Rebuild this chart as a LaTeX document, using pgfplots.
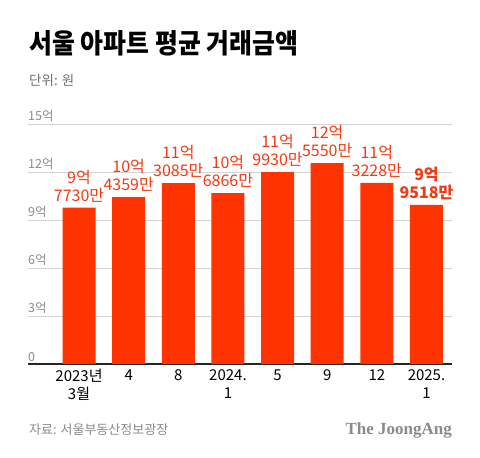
\documentclass[border=0pt]{standalone}
\usepackage{fontspec}
\setmainfont{Noto Sans CJK KR}
\newfontfamily\serifb{Liberation Serif}
\usepackage{graphicx}
\usepackage{pgfplots}
\pgfplotsset{compat=1.18}
\definecolor{barred}{HTML}{FF3300}
\definecolor{labred}{HTML}{F23A12}
\definecolor{gridc}{HTML}{D2D2D2}
\definecolor{txtgray}{HTML}{8A8A8A}
\definecolor{subgray}{HTML}{6E6E6E}
\begin{document}
\begin{tikzpicture}
\begin{axis}[
  at={(0pt,0pt)}, anchor=south west,
  scale only axis, width=424pt, height=240pt,
  xmin=-1.028, xmax=7.514, ymin=0, ymax=15,
  clip=false,
  axis line style={draw=none},
  tick style={draw=none},
  major tick length=0pt,
  ytick={3,6,9,12,15},
  yticklabels={},
  ymajorgrids,
  grid style={gridc, line width=0.8pt},
  extra y ticks={0},
  extra y tick labels={},
  extra y tick style={grid style={black!85, line width=1.1pt}},
  xtick={0,...,7},
  xticklabels={{2023년\\3월},4,8,{2024.\\1},5,9,12,{2025.\\1}},
  xticklabel style={align=center, font=\fontsize{15}{18}\selectfont, text=black, yshift=-2pt},
  ybar, bar width=33pt,
]
\addplot[fill=barred, draw=none] coordinates {
  (0,9.7730) (1,10.4359) (2,11.3085) (3,10.6866)
  (4,11.9930) (5,12.5550) (6,11.3228) (7,9.9518)
};
\foreach \v/\t in {0/0,3/3억,6/6억,9/9억,12/12억,15/15억}{
  \edef\tmp{\noexpand\node[anchor=south west, inner sep=0pt, yshift=2.5pt, text=txtgray, font=\noexpand\fontsize{12.5}{14}\noexpand\selectfont] at (axis cs:-1.028,\v) {\t};}
  \tmp
}
\tikzset{vl/.style={anchor=south, align=center, inner sep=0pt, yshift=5pt, text=labred, font=\fontsize{16}{18}\selectfont}}
\node[vl] at (axis cs:0,9.7730) {9억\\7730만};
\node[vl] at (axis cs:1,10.4359) {10억\\4359만};
\node[vl] at (axis cs:2,11.3085) {11억\\3085만};
\node[vl] at (axis cs:3,10.6866) {10억\\6866만};
\node[vl] at (axis cs:4,11.9930) {11억\\9930만};
\node[vl] at (axis cs:5,12.5550) {12억\\5550만};
\node[vl] at (axis cs:6,11.3228) {11억\\3228만};
\node[vl, font=\fontsize{16}{18}\selectfont\bfseries] at (axis cs:7,9.9518) {9억\\9518만};
\end{axis}
% header (1pt = 1px; origin at left end of zero line, y up)
\node[anchor=base west, inner sep=0pt] at (1pt,310pt) {\resizebox{269pt}{23pt}{\bfseries 서울 아파트 평균 거래금액}};
\node[anchor=base west, inner sep=0pt, text=subgray, font=\fontsize{13.5}{15}\selectfont] at (1pt,278pt) {단위: 원};
% footer
\node[anchor=base west, inner sep=0pt, text=txtgray, font=\fontsize{13}{15}\selectfont] at (1pt,-71pt) {자료: 서울부동산정보광장};
\node[anchor=base east, inner sep=0pt, text=txtgray, font=\serifb\bfseries\fontsize{17}{19}\selectfont] at (424pt,-71pt) {The JoongAng};
\pgfresetboundingbox
\path[use as bounding box] (-28pt,-94pt) rectangle (452pt,364pt);
\end{tikzpicture}
\end{document}
